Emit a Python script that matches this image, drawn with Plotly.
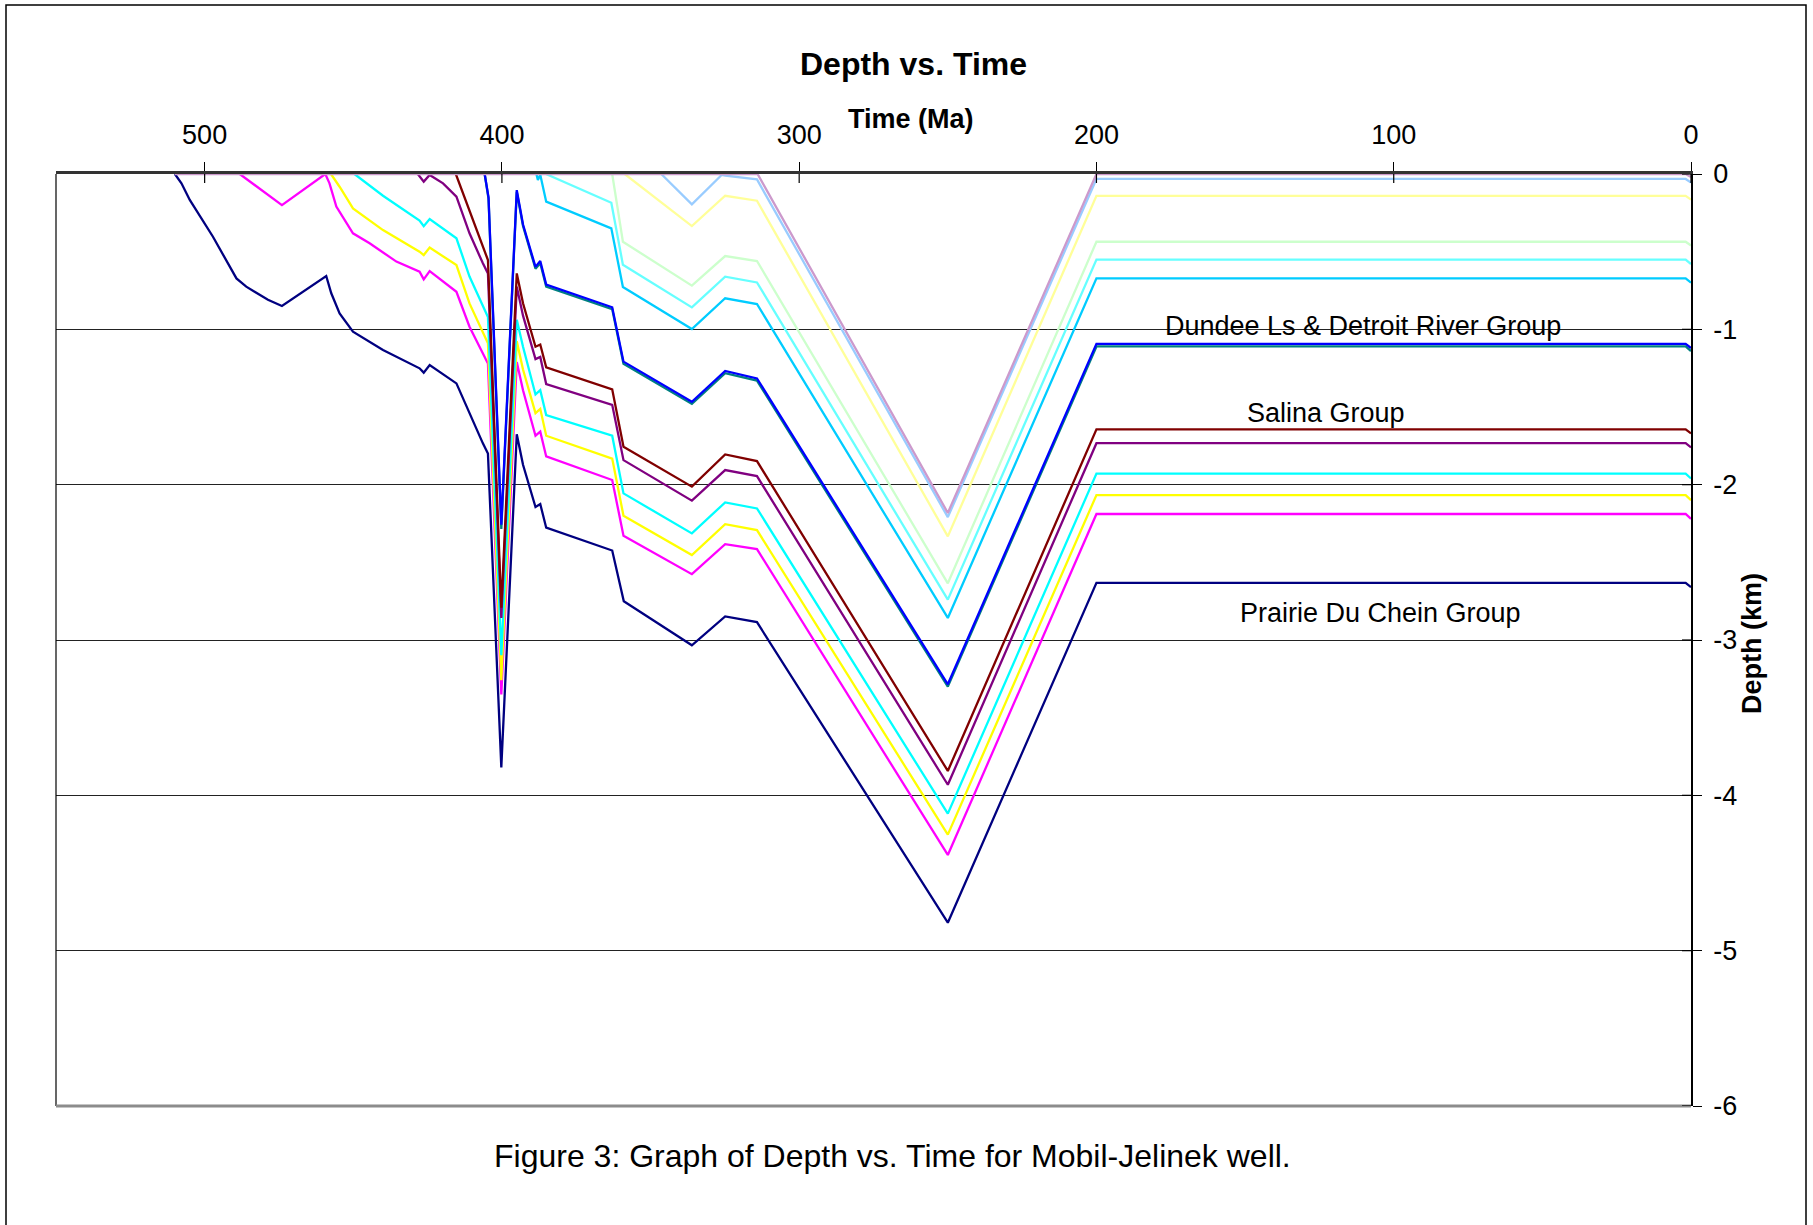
import plotly.graph_objects as go

# ---------------- data (age in Ma, depth in km) ----------------
age_navy = [510, 507.8, 505, 500.5, 497.2, 489.3, 486, 478.7, 474, 459.1, 457.4, 454.6, 450.1, 440,
            427.7, 426.3, 424.3, 415.3, 410.9, 406.4, 404.7, 400.2, 395, 392.9, 388.7, 387.1, 385.1,
            362.9, 359, 336.1, 324.9, 314.2, 250, 200, 1.8, 0]
dep_navy = [0, -0.06, -0.167, -0.307, -0.404, -0.672, -0.725, -0.81, -0.85, -0.657, -0.768, -0.897, -1.015, -1.133,
            -1.251, -1.279, -1.23, -1.348, -1.541, -1.734, -1.80, -3.82, -1.675, -1.872, -2.144, -2.125, -2.277,
            -2.424, -2.75, -3.034, -2.848, -2.885, -4.82, -2.632, -2.632, -2.66]

age_magenta = [488.2, 474, 459.4, 458, 455.7, 453.5, 450.1, 444.5, 435.5, 427.7, 426.3, 424.3, 415.3, 410.9,
               406.4, 404.7, 400.2, 395, 392.9, 388.7, 387.1, 385.1, 362.9, 359.1, 336.1, 324.9, 314.2,
               250, 200, 1.8, 0]
dep_magenta = [0, -0.2, 0, -0.06, -0.21, -0.275, -0.382, -0.446, -0.564, -0.629, -0.678, -0.625, -0.758, -0.983,
               -1.155, -1.22, -3.35, -1.21, -1.392, -1.685, -1.659, -1.818, -1.970, -2.329, -2.576, -2.383, -2.415,
               -4.384, -2.189, -2.189, -2.22]

age_yellow = [457.5, 454.6, 450.1, 440, 427.7, 426.3, 424.3, 415.3, 410.9, 406.4, 404.7, 400.2, 395, 392.9,
              388.7, 387.1, 385.1, 362.9, 359.1, 336.1, 324.9, 314.2, 250, 200, 1.8, 0]
dep_yellow = [0, -0.082, -0.221, -0.361, -0.5, -0.522, -0.474, -0.586, -0.833, -1.015, -1.09, -3.258, -1.077, -1.259,
              -1.539, -1.512, -1.685, -1.832, -2.2, -2.453, -2.254, -2.292, -4.253, -2.067, -2.067, -2.10]

age_cyan = [449.6, 440, 427.7, 426.3, 424.3, 415.3, 410.9, 406.4, 404.7, 400.2, 395, 392.9, 388.7, 387.1,
            385.1, 362.9, 359.1, 336.1, 324.9, 314.2, 250, 200, 1.8, 0]
dep_cyan = [0, -0.14, -0.30, -0.336, -0.29, -0.414, -0.66, -0.854, -0.92, -3.098, -0.939, -1.112, -1.419, -1.392,
            -1.552, -1.685, -2.056, -2.314, -2.114, -2.153, -4.118, -1.929, -1.929, -1.96]

age_purple = [428.3, 426.3, 424.3, 419.8, 415.3, 410.9, 406.4, 404.7, 400.2, 395, 392.9, 388.7, 387.1, 385.1,
              362.9, 359.1, 336.1, 324.9, 314.2, 250, 200, 1.8, 0]
dep_purple = [0, -0.049, -0.006, -0.06, -0.146, -0.382, -0.575, -0.64, -2.858, -0.725, -0.912, -1.192, -1.178, -1.352,
              -1.486, -1.842, -2.103, -1.906, -1.945, -3.932, -1.733, -1.733, -1.76]

age_darkred = [415.5, 410.9, 406.4, 404.7, 400.2, 395, 392.9, 388.7, 387.1, 385.1, 362.9, 359.1, 336.1,
               324.9, 314.2, 250, 200, 1.8, 0]
dep_darkred = [0, -0.232, -0.468, -0.554, -2.792, -0.64, -0.832, -1.112, -1.098, -1.245, -1.386, -1.756, -2.013,
               -1.805, -1.848, -3.843, -1.644, -1.644, -1.67]

age_teal = [405.8, 404.5, 400.2, 395, 392.9, 388.7, 387.1, 385.1, 362.9, 359.1, 336.1, 324.9, 314.2, 250, 200, 1.8, 0]
dep_teal = [0, -0.16, -2.285, -0.115, -0.335, -0.61, -0.575, -0.725, -0.87, -1.222, -1.48, -1.282, -1.33, -3.30,
            -1.11, -1.11, -1.14]

age_blue = [405.8, 404.5, 400.2, 395, 392.9, 388.7, 387.1, 385.1, 362.9, 359.1, 336.1, 324.9, 314.2, 250, 200, 1.8, 0]
dep_blue = [0, -0.15, -2.258, -0.104, -0.325, -0.598, -0.56, -0.712, -0.858, -1.208, -1.466, -1.268, -1.316, -3.285,
            -1.093, -1.093, -1.12]

age_skyblue = [388.4, 387.9, 387.1, 385.1, 363.2, 359.3, 336.1, 324.9, 314.2, 250, 200, 1.8, 0]
dep_skyblue = [0, -0.039, -0.005, -0.178, -0.35, -0.727, -0.998, -0.8, -0.837, -2.858, -0.672, -0.672, -0.70]

age_lightcyan = [385.2, 363.2, 359.3, 336.1, 324.9, 314.2, 250, 200, 1.8, 0]
dep_lightcyan = [0, -0.185, -0.584, -0.859, -0.661, -0.698, -2.74, -0.551, -0.551, -0.58]

age_lightgreen = [362.9, 359.3, 336.1, 324.9, 314.2, 250, 200, 1.8, 0]
dep_lightgreen = [0, -0.436, -0.719, -0.528, -0.56, -2.635, -0.436, -0.436, -0.46]

age_lightyellow = [358.7, 336.1, 324.9, 314.2, 250, 200, 1.8, 0]
dep_lightyellow = [0, -0.335, -0.14, -0.172, -2.333, -0.141, -0.141, -0.165]

age_lightblue = [346.4, 336.1, 326, 324.9, 314.2, 250, 200, 1.8, 0]
dep_lightblue = [0, -0.195, -0.005, -0.01, -0.035, -2.209, -0.032, -0.032, -0.055]

age_mauve = [510, 314, 250, 200, 1.8, 0]
dep_mauve = [0, 0, -2.182, 0, 0, -0.02]

x_tickvals = [500, 400, 300, 200, 100, 0]
y_tickvals = [0, -1, -2, -3, -4, -5, -6]
y_ticktext = ["0", "-1", "-2", "-3", "-4", "-5", "-6"]

unit_labels = ["Dundee Ls & Detroit River Group", "Salina Group", "Prairie Du Chein Group"]
unit_label_age = [110.5, 122.9, 104.4]
unit_label_depth = [-0.979, -1.539, -2.827]

# ---------------- styles ----------------
series = [
    (age_navy, dep_navy, "#000080"),
    (age_magenta, dep_magenta, "#FF00FF"),
    (age_yellow, dep_yellow, "#FFFF00"),
    (age_cyan, dep_cyan, "#00FFFF"),
    (age_purple, dep_purple, "#800080"),
    (age_darkred, dep_darkred, "#800000"),
    (age_teal, dep_teal, "#008080"),
    (age_blue, dep_blue, "#0000FF"),
    (age_skyblue, dep_skyblue, "#00CCFF"),
    (age_lightcyan, dep_lightcyan, "#66FFFF"),
    (age_lightgreen, dep_lightgreen, "#CCFFCC"),
    (age_lightyellow, dep_lightyellow, "#FFFF99"),
    (age_lightblue, dep_lightblue, "#99CCFF"),
    (age_mauve, dep_mauve, "#CC99CC"),
]

FONT = "Liberation Sans, Arial, sans-serif"
W, H = 1813, 1225
ML, MR, MT, MB = 56, 122, 174, 119
PW, PH = W - ML - MR, H - MT - MB

fig = go.Figure()
for ages, deps, col in series:
    fig.add_trace(go.Scatter(x=ages, y=deps, mode="lines",
                             line=dict(color=col, width=2.3), showlegend=False,
                             hoverinfo="skip"))

def px_x(p):
    return (p - ML) / PW

def px_y(p):
    return (H - MB - p) / PH

annotations = [
    dict(text="<b>Depth vs. Time</b>", x=px_x(913), y=px_y(64), xref="paper", yref="paper",
         showarrow=False, font=dict(family=FONT, size=32, color="black"), xanchor="center", yanchor="middle"),
    dict(text="<b>Time (Ma)</b>", x=px_x(911), y=px_y(119), xref="paper", yref="paper",
         showarrow=False, font=dict(family=FONT, size=27, color="black"), xanchor="center", yanchor="middle"),
    dict(text="<b>Depth (km)</b>", x=px_x(1752), y=px_y(644), xref="paper", yref="paper", textangle=-90,
         showarrow=False, font=dict(family=FONT, size=27, color="black"), xanchor="center", yanchor="middle"),
    dict(text="Figure 3: Graph of Depth vs. Time for Mobil-Jelinek well.", x=px_x(892), y=px_y(1156),
         xref="paper", yref="paper", showarrow=False,
         font=dict(family=FONT, size=32, color="black"), xanchor="center", yanchor="middle"),
]
for txt, a, d in zip(unit_labels, unit_label_age, unit_label_depth):
    annotations.append(dict(text=txt, x=a, y=d, xref="x", yref="y", showarrow=False,
                            font=dict(family=FONT, size=27, color="black"),
                            xanchor="center", yanchor="middle"))

shapes = []
# outer frame (open at the bottom edge of the picture)
shapes.append(dict(type="rect", xref="paper", yref="paper", x0=px_x(6), x1=px_x(1806),
                   y0=px_y(1300), y1=px_y(5), line=dict(color="black", width=1.5), layer="below"))
# plot-area left and bottom border
shapes.append(dict(type="line", xref="paper", yref="paper", x0=0, x1=0, y0=0, y1=1,
                   line=dict(color="black", width=1.2)))
shapes.append(dict(type="line", xref="paper", yref="paper", x0=0, x1=1, y0=0, y1=0,
                   line=dict(color="#8c8c8c", width=3)))
# inner halves of the crossing tick marks
for v in x_tickvals:
    shapes.append(dict(type="line", xref="x", yref="paper", x0=v, x1=v, y0=1, y1=1 - 9 / PH,
                       line=dict(color="black", width=1.2)))
for v in y_tickvals:
    shapes.append(dict(type="line", xref="paper", yref="y", x0=1, x1=1 - 9 / PW, y0=v, y1=v,
                       line=dict(color="black", width=1.2)))

fig.update_layout(
    width=W, height=H,
    margin=dict(l=ML, r=MR, t=MT, b=MB),
    paper_bgcolor="white", plot_bgcolor="white",
    font=dict(family=FONT, color="black"),
    annotations=annotations,
    shapes=shapes,
    xaxis=dict(range=[550, 0], side="top", tickvals=x_tickvals, ticks="outside", ticklen=9,
               tickwidth=1.2, tickcolor="black", showline=True, linecolor="#333333", linewidth=2.5,
               showgrid=False, zeroline=False, tickfont=dict(family=FONT, size=27, color="black"),
               ticklabelstandoff=7, fixedrange=True),
    yaxis=dict(range=[-6, 0], side="right", tickvals=y_tickvals, ticktext=y_ticktext, ticks="outside",
               ticklen=9, tickwidth=1.2, tickcolor="black", showline=True, linecolor="black",
               linewidth=1.5, showgrid=True, gridcolor="#222222", gridwidth=1.2, zeroline=False,
               tickfont=dict(family=FONT, size=27, color="black"), ticklabelstandoff=6, fixedrange=True),
)

fig.write_html("out.html", config={"displayModeBar": False},
               post_script="document.body.style.margin='0';document.body.style.overflow='hidden';")
